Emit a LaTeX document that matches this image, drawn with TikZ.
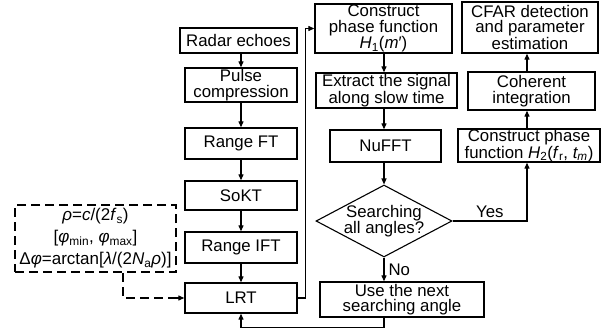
\documentclass[tikz,border=0pt]{standalone}
\usepackage{fontspec}
\setmainfont{Liberation Sans}
\usetikzlibrary{shapes.geometric,arrows.meta}

\tikzset{
	blk/.style={draw,line width=1.3pt,align=center,inner sep=0pt},
	dec/.style={draw,line width=1.1pt,shape=diamond,inner sep=0pt,aspect=1.9,minimum width=136pt,minimum height=72pt},
	flow/.style={line width=1.1pt,-{Triangle[length=6pt,width=5pt]}},
	dsh/.style={line width=2.2pt,dash pattern=on 9pt off 5pt},
}

\begin{document}
\begin{tikzpicture}[x=1pt,y=-1pt,font=\fontsize{16.8}{15.5}\selectfont]
		\useasboundingbox (0,0) rectangle (603,329);
		
		% Left column
		\node[blk,minimum width=117pt,minimum height=25pt] (echo) at (238.5,40.5) {Radar echoes};
		\node[blk,minimum width=112pt,minimum height=34pt] (pulse) at (241,85) {Pulse\\compression};
		\node[blk,minimum width=112pt,minimum height=31pt] (rft) at (241,143.5) {Range FT};
		\node[blk,minimum width=112pt,minimum height=29pt] (sokt) at (241,195.5) {SoKT};
		\node[blk,minimum width=112pt,minimum height=31pt] (rift) at (241,247.5) {Range IFT};
		\node[blk,minimum width=112pt,minimum height=30pt] (lrt) at (241,298) {LRT};
		
		%% Parameters
		\node[dsh,draw,align=center,inner sep=0pt,minimum width=161pt,minimum height=67pt,font=\fontsize{17}{22}\selectfont] (prm) at (95.5,238.5)
			{\textit{ρ}=\textit{c}/(2\textit{f}\textsubscript{s})\\
			 {[}\textit{φ}\textsubscript{min}, \textit{φ}\textsubscript{max}]\\
			 Δ\textit{φ}=arctan[\textit{λ}/(2\textit{N}\textsubscript{a}\textit{ρ})]};
		
		% Middle column
		\node[blk,minimum width=137pt,minimum height=49pt] (hone) at (383.5,28.5) {Construct\\phase function\\\textit{H}\textsubscript{1}(\textit{m}′)};
		\node[blk,minimum width=141pt,minimum height=35pt] (slow) at (386.5,90.5) {Extract the signal\\along slow time};
		\node[blk,minimum width=111pt,minimum height=32pt] (nufft) at (385.5,146) {NuFFT};
		\node[dec] (ask) at (384,221) {};
		\node[align=center,inner sep=0pt] (askt) at (ask) {Searching\\all angles?};
		\node[blk,minimum width=164pt,minimum height=35pt] (next) at (402,299.5) {Use the next\\searching angle};
		
		% Right column
		\node[blk,minimum width=136pt,minimum height=51pt] (cfar) at (530,27.5) {CFAR detection\\and parameter\\estimation};
		\node[blk,minimum width=127pt,minimum height=38pt] (coh) at (531.5,91) {Coherent\\integration};
		\node[blk,minimum width=142pt,minimum height=33pt] (htwo) at (529,145.5) {Construct phase\\function \textit{H}\textsubscript{2}(\textit{f}\textsubscript{r}, \textit{t\textsubscript{m}})};
		
		%% Arrows
		\draw[flow] (echo.south -| pulse) -- (pulse.north);
		\draw[flow] (pulse) -- (rft);
		\draw[flow] (rft) -- (sokt);
		\draw[flow] (sokt) -- (rift);
		\draw[flow] (rift) -- (lrt);
		\draw[flow] (lrt.east) -- ++(8,0) |- (hone.west);
		\draw[flow] (hone.south -| ask) -- (slow.north -| ask);
		\draw[flow] (slow.south -| ask) -- (nufft.north -| ask);
		\draw[flow] (nufft.south -| ask) -- (ask.north);
		\draw[flow] (ask.south) -- node[right,inner sep=4pt] (no) {No} (ask.south |- next.north);
		\draw[flow] (ask.east) -| node[pos=0.25,above,inner sep=3pt] (yes) {Yes} ([xshift=-2pt]htwo.south);
		\draw[flow] ([xshift=-2pt]htwo.north) -- ([xshift=-4.5pt]coh.south);
		\draw[flow] ([xshift=-4.5pt]coh.north) -- ([xshift=-3pt]cfar.south);
		\draw[flow] (ask.south |- next.south) -- ++(0,10) -| (lrt.south);
		
		%% Dashed feed
		\draw[dsh] ([xshift=27.5pt]prm.south) |- ([xshift=-9pt]lrt.west);
		\draw[flow] ([xshift=-10pt]lrt.west) -- (lrt.west);
	\end{tikzpicture}
\end{document}
